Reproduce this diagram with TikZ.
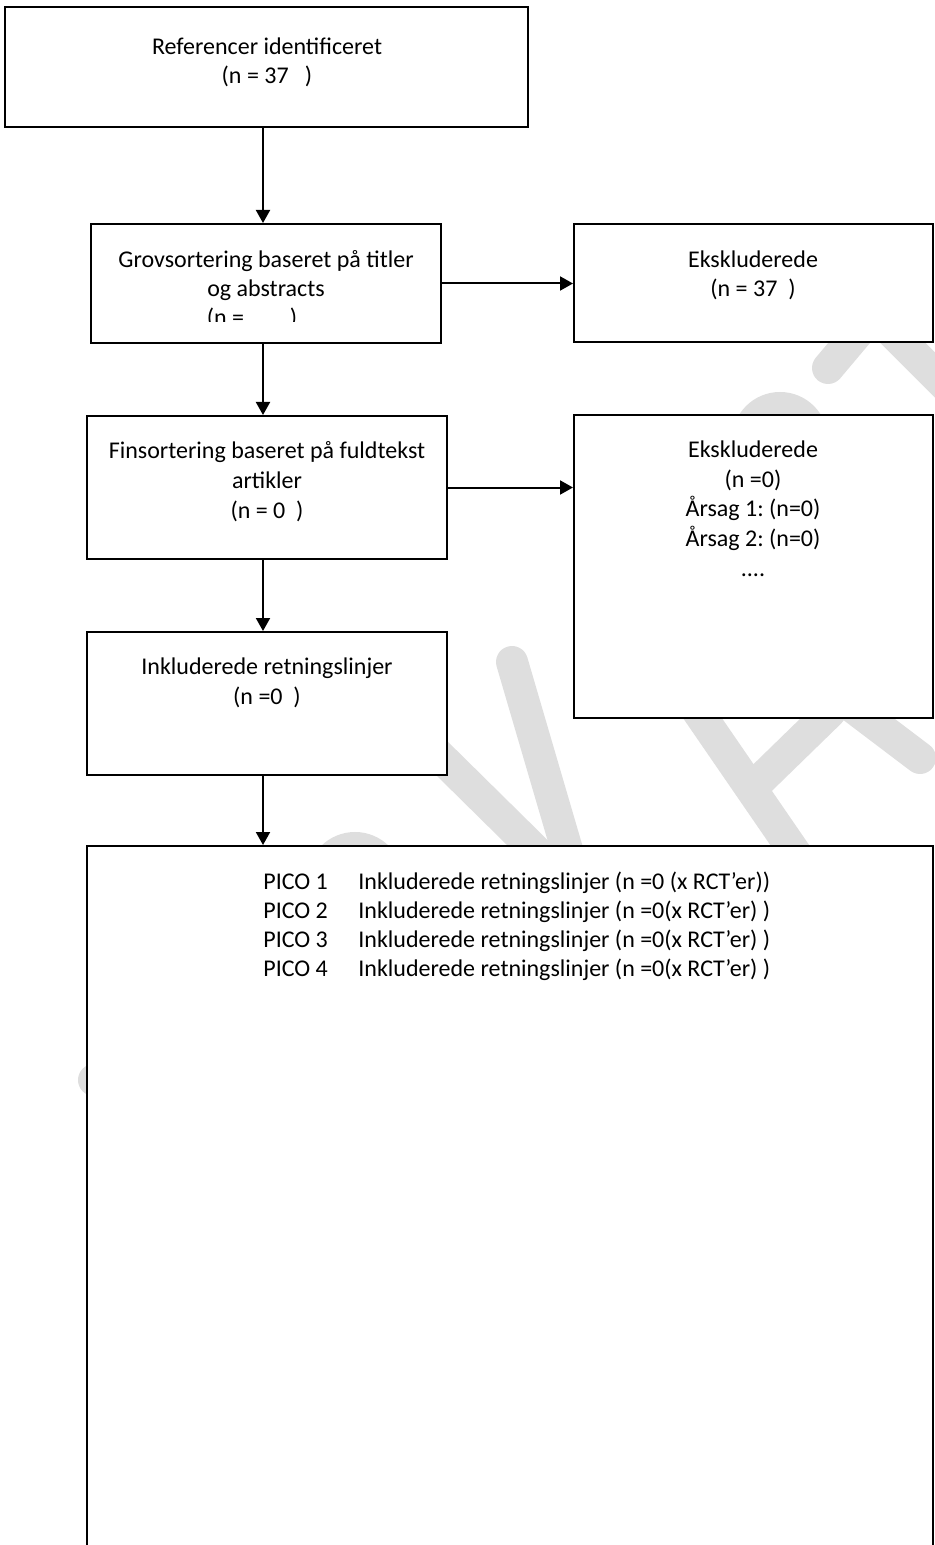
\documentclass[tikz,border=0pt]{standalone}
\usepackage{fontspec}
\setmainfont{Carlito}
\frenchspacing
\usetikzlibrary{arrows.meta,fit}

\tikzset{
  box/.style={draw=black, line width=1pt, fill=white, inner sep=0pt, line join=miter},
  flow/.style={line width=1pt, -{Triangle[length=6.5pt,width=7pt]}},
  wm/.style={line width=16pt, color=black!13, line cap=round},
  txt/.style={align=center, font=\fontsize{12}{14.8}\selectfont, inner sep=0pt, anchor=base},
  picotxt/.style={font=\fontsize{12}{14.8}\selectfont, inner sep=0pt, anchor=base west}
}

\begin{document}
\begin{tikzpicture}[x=0.5pt,y=-0.5pt]
\useasboundingbox (0,0) rectangle (935,1545);
\clip (0,0) rectangle (935,1545);
% watermark behind the boxes
\draw [wm] (512,662) -- (570,860);
\draw [wm] (400,717) -- (545,860);
\draw [wm] (690,700) -- (800,860);
\draw [wm] (755,785) -- (830,712);
\draw [wm] (850,705) -- (920,758);
\draw [wm] (828,368) -- (860,330);
\draw [wm] (890,330) -- (950,390);
\draw [wm] (780,440) circle (32);
\draw [wm] (355,880) circle (32);
\draw [wm] (94,1080) -- (200,1150);
% boxes (text nodes sit on the baseline of their last line)
\node [box, fit={(5,7) (528,127)}] (refs) {};
\node [txt] (refs-t) at (267,84) {Referencer identificeret\\(n = 37\ \ \ )};
\node [box, fit={(91,224) (441,343)}] (grov) {};
\node [txt] (grov-t) at (266,297) {Grovsortering baseret på titler\\og abstracts};
\begin{scope}
\clip (91,224) rectangle (441,322);
\node [txt] (grov-n) at (252,326) {(n =\hspace{1.9em})};
\end{scope}
\node [box, fit={(574,224) (933,342)}] (eks1) {};
\node [txt] (eks1-t) at (753,297) {Ekskluderede\\(n = 37\ \ )};
\node [box, fit={(87,416) (447,559)}] (fin) {};
\node [txt] (fin-t) at (267,518) {Finsortering baseret på fuldtekst\\artikler\\(n = 0\ \ )};
\node [box, fit={(574,415) (933,718)}] (eks2) {};
\node [txt] (eks2-t) at (753,576) {Ekskluderede\\(n =0)\\Årsag 1: (n=0)\\Årsag 2: (n=0)\\....};
\node [box, fit={(87,632) (447,775)}] (inkl) {};
\node [txt] (inkl-t) at (267,704) {Inkluderede retningslinjer\\(n =0\ \ )};
\node [box, fit={(87,846) (933,1560)}] (pico) {};
\foreach \i/\yy/\rest in {1/889/{(n =0 (x RCT’er))}, 2/918/{(n =0(x RCT’er) )}, 3/947/{(n =0(x RCT’er) )}, 4/976/{(n =0(x RCT’er) )}}{
  \node [picotxt] (pico\i) at (263,\yy) {PICO \i};
  \node [picotxt] (pico\i-t) at (358,\yy) {Inkluderede retningslinjer \rest};
}
% connectors
\coordinate (spine) at (263,0);
\draw [flow] (refs.south -| spine) -- (grov.north -| spine);
\draw [flow] (grov.south -| spine) -- (fin.north -| spine);
\draw [flow] (fin.south -| spine) -- (inkl.north -| spine);
\draw [flow] (inkl.south -| spine) -- (pico.north -| spine);
\draw [flow] (grov.east) -- (eks1.west |- grov.east);
\draw [flow] (fin.east) -- (eks2.west |- fin.east);
\end{tikzpicture}
\end{document}
